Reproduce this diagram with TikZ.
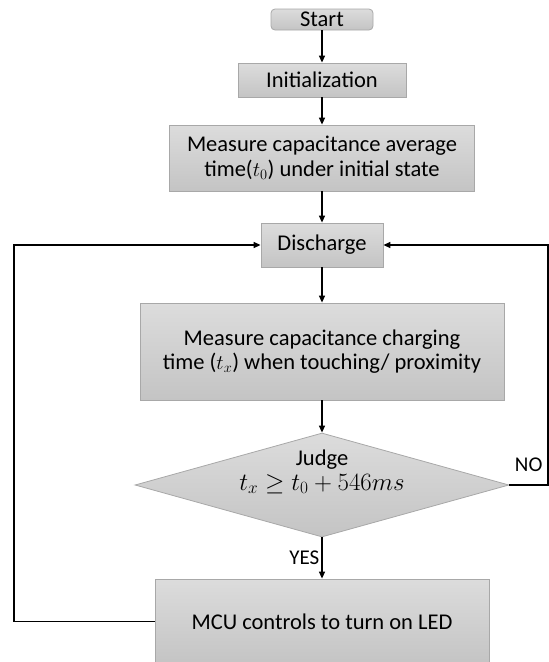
\documentclass[tikz,border=0pt]{standalone}
\usepackage{fontspec}
\setmainfont{Carlito}
\usetikzlibrary{shapes.geometric,arrows.meta}
\definecolor{boxtop}{HTML}{DCDCDC}
\definecolor{boxbot}{HTML}{C4C4C4}
\definecolor{boxline}{HTML}{A8A8A8}
\begin{document}
\begin{tikzpicture}[x=1pt, y=-1pt,
  proc/.style={draw=boxline, line width=0.8pt, top color=boxtop, bottom color=boxbot,
    align=center, inner sep=0pt, font=\fontsize{22.5}{24.5}\selectfont},
  startbox/.style={proc, rounded corners=4pt},
  decision/.style={diamond, draw=boxline, line width=0.8pt, top color=boxtop,
    bottom color=boxbot, aspect=3.6, inner sep=0pt},
  flow/.style={line width=1.3pt, -{Triangle[length=7pt,width=6pt]}},
  note/.style={font=\fontsize{21}{23}\selectfont, inner sep=2pt}
]
\useasboundingbox (0,0) rectangle (549,662);
\node[startbox, minimum width=102, minimum height=21] (start) at (322,19.5) {Start};
\node[proc, minimum width=168, minimum height=34] (init) at (322,80) {Initialization};
\node[proc, minimum width=305, minimum height=66] (avg) at (322,158)
  {Measure capacitance average\\ time($t_0$) under initial state};
\node[proc, minimum width=122, minimum height=44] (discharge) at (322,245) {Discharge};
\node[proc, minimum width=364, minimum height=97] (charge) at (322,351.5)
  {Measure capacitance charging\\ time ($t_x$) when touching/ proximity};
\node[decision, minimum width=374, minimum height=104] (judge) at (322,485) {};
\node[align=center, inner sep=0pt, font=\fontsize{22.5}{24.5}\selectfont] (judgetext) at (322,472)
  {Judge\\ {\fontsize{25}{27}\selectfont $t_x \geq t_0 + 546ms$}};
\node[proc, minimum width=334, minimum height=85] (mcu) at (322,621.5) {MCU controls to turn on LED};
% loop corners
\coordinate (noc) at (548,485);
\coordinate (yesc) at (14,621.5);
\draw[flow] (start) -- (init);
\draw[flow] (init) -- (avg);
\draw[flow] (avg) -- (discharge);
\draw[flow] (discharge) -- (charge);
\draw[flow] (charge) -- (judge);
\draw[flow] (judge) -- node[note, left] {YES} (mcu);
\draw[flow] (judge.east) -- node[note, above=11pt] {NO} (noc) |- (discharge.east);
\draw[flow] (mcu.west) -- (yesc) |- (discharge.west);
\end{tikzpicture}
\end{document}
